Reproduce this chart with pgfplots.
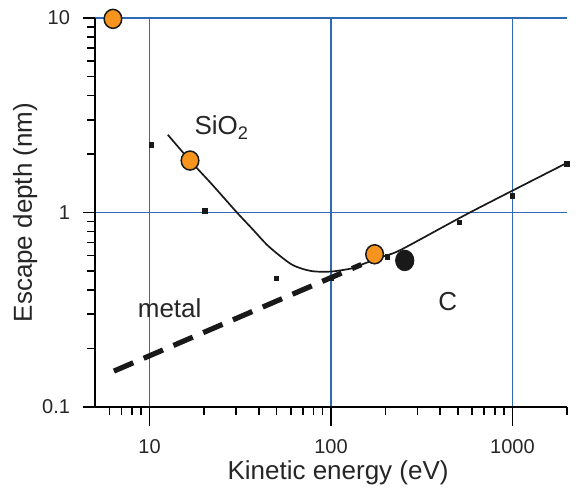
\documentclass[border=0pt]{standalone}
\usepackage{pgfplots}
\pgfplotsset{compat=1.18}
\usetikzlibrary{calc}
\usepackage{fontspec}
\setmainfont{Liberation Sans}
\definecolor{gridblue}{HTML}{2F6BB5}
\definecolor{dotorange}{HTML}{F7941D}
\begin{document}
\begin{tikzpicture}
\useasboundingbox (-47.5pt,-41pt) rectangle (245pt,203.5pt);
\begin{axis}[
  scale only axis,
  width=236pt, height=194.5pt,
  xmode=log, ymode=log,
  xmin=5, xmax=2000, ymin=0.1, ymax=10,
  axis line style={draw=none},
  clip=false,
  xtick pos=bottom, ytick pos=left,
  xtick={10,100,1000}, xticklabels={10,100,1000},
  ytick={0.1,1,10}, yticklabels={0.1,1,10},
  tick align=outside,
  major tick length=6pt, minor tick length=3.8pt,
  tick style={draw=none},
  xmajorgrids, ymajorgrids,
  major grid style={gridblue, line width=0.7pt},
  /pgf/number format/assume math mode=true,
  tick label style={font=\fontsize{10}{12}\selectfont, color=black!85},
  xticklabel style={yshift=-7pt},
  yticklabel style={xshift=-3pt},
  xlabel={Kinetic energy (eV)},
  ylabel={Escape depth (nm)},
  label style={font=\fontsize{13}{15}\selectfont, color=black!85},
  xlabel style={at={(axis description cs:0.515,-0.168)}, anchor=center},
  ylabel style={at={(axis description cs:-0.148,0.5)}, anchor=center},
]
% metal dashed line
\addplot[black!90, line width=2.6pt, dash pattern=on 10.5pt off 5.7pt] coordinates {(6.36,0.153) (147,0.54)};
% SiO2 / C solid curve
\addplot[black!90, line width=0.85pt, smooth, tension=0.45] coordinates {
 (12.6,2.51) (16.7,1.85) (22,1.40) (30.3,1.0) (37,0.82) (45.3,0.67) (60.8,0.54)
 (78,0.50) (100,0.497) (130,0.516) (147.5,0.54) (194,0.594) (245,0.646) (583,1.0) (2000,1.80)};
% small squares
\addplot[only marks, mark=square*, mark size=1.1pt, black!90] coordinates {
 (10.2,2.23) (20.2,1.02) (50,0.46) (100,0.46) (205,0.59) (510,0.89) (1000,1.22) (2000,1.78)};
% black big circle
\addplot[only marks, mark=*, mark size=4.6pt, black!90, mark options={yscale=1.12}] coordinates {(255,0.567)};
% orange circles
\addplot[only marks, mark=*, mark size=4.4pt, mark options={fill=dotorange, draw=black!90, line width=0.75pt, yscale=1.08}] coordinates {
 (6.28,9.9) (16.7,1.85) (174,0.61)};
\node[font=\fontsize{13}{15}\selectfont, text=black!85] at (axis cs:25,2.73) {SiO\textsubscript{2}};
\node[font=\fontsize{13}{15}\selectfont, text=black!85] at (axis cs:12.9,0.322) {metal};
\node[font=\fontsize{13}{15}\selectfont, text=black!85] at (axis cs:440,0.35) {C};
\coordinate (O) at (rel axis cs:0,0);
\coordinate (X) at (rel axis cs:1,0);
\coordinate (Y) at (rel axis cs:0,1);
\end{axis}
% axis lines
\draw[black, line width=0.8pt] (Y) -- (O) -- (X);
% x ticks
\foreach \v in {10,100,1000}{\draw[black, line width=0.8pt] ($(O)!{ln(\v/5)/ln(400)}!(X)$) -- ++(0pt,-9.5pt);}
\foreach \v in {6,7,8,9,20,30,40,50,60,70,80,90,200,300,400,500,600,700,800,900,2000}{\draw[black, line width=0.8pt] ($(O)!{ln(\v/5)/ln(400)}!(X)$) -- ++(0pt,-3.8pt);}
% y ticks
\foreach \v in {0.1,1,10}{\draw[black, line width=0.8pt] ($(O)!{ln(\v/0.1)/ln(100)}!(Y)$) -- ++(-6pt,0pt);}
\foreach \v in {0.2,0.3,0.4,0.5,0.6,0.7,0.8,0.9,2,3,4,5,6,7,8,9}{\draw[black, line width=0.8pt] ($(O)!{ln(\v/0.1)/ln(100)}!(Y)$) -- ++(-4pt,0pt);}
\end{tikzpicture}
\end{document}
